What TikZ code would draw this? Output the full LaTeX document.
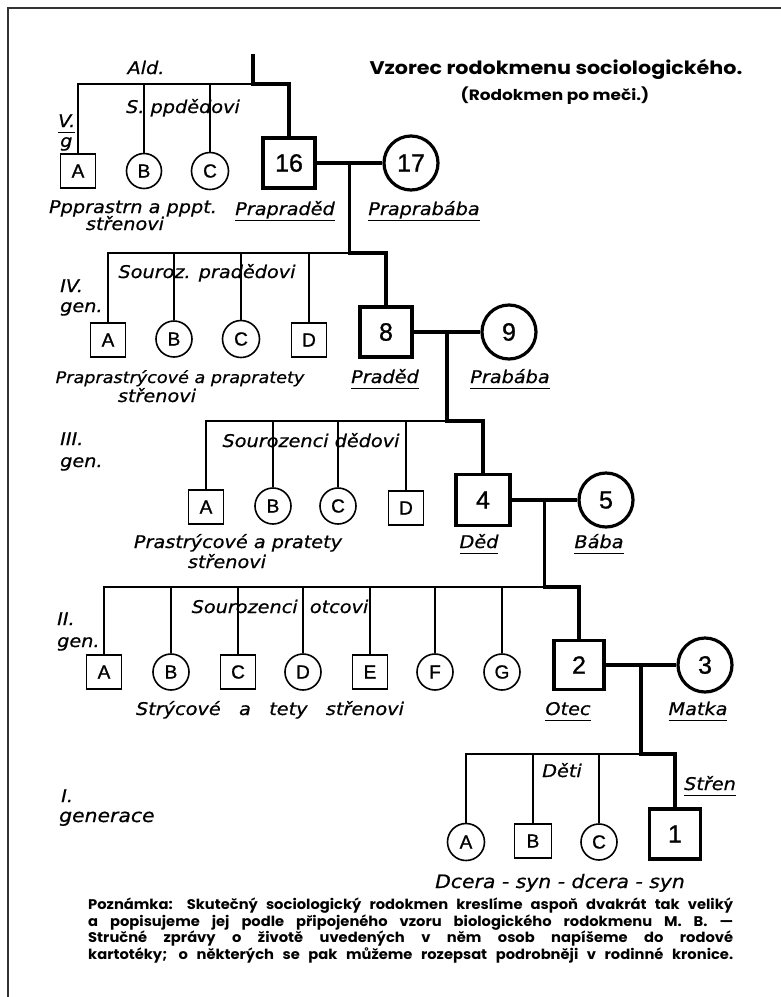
\documentclass[tikz,border=0pt]{standalone}
\usepackage{fontspec}
\setmainfont{Liberation Sans}
\newfontfamily\hand[FakeStretch=1.1,FakeBold=0.6]{DejaVu Sans}
\newfontfamily\geot[FakeStretch=1.13]{Poppins}
\newfontfamily\geon[FakeStretch=1.05]{Poppins}
\newfontfamily\boxf[FakeBold=1]{Liberation Sans}
\usetikzlibrary{calc}
\newcommand\ulab[1]{\setbox0\hbox{#1}\rlap{\rule[-6pt]{\wd0}{1.4pt}}\box0}
\tikzset{
  sq/.style={draw, line width=1.6pt, minimum width=35pt, minimum height=34pt, inner sep=0pt, font=\boxf\fontsize{19}{19}\selectfont},
  ci/.style={draw, circle, line width=1.6pt, minimum size=36pt, inner sep=0pt, font=\boxf\fontsize{19}{19}\selectfont},
  bigsq/.style={draw, line width=3.2pt, minimum width=52pt, minimum height=50pt, inner sep=0pt, font=\boxf\fontsize{25}{25}\selectfont},
  bigci/.style={draw, circle, line width=3.2pt, minimum size=54pt, inner sep=0pt, font=\boxf\fontsize{25}{25}\selectfont},
  lnthin/.style={line width=1.6pt},
  lnthick/.style={line width=3.2pt},
  lab/.style={inner sep=0pt, anchor=base, font=\hand\itshape\fontsize{17.5}{19}\selectfont},
  labl/.style={lab, anchor=base west},
  notef/.style={inner sep=0pt, anchor=base west, font=\geon\bfseries\fontsize{14}{15}\selectfont},
}
\begin{document}
\begin{tikzpicture}[x=1pt, y=-1pt]
\useasboundingbox (0,0) rectangle (781,997);
\fill[white] (0,0) rectangle (781,997);
% frame
\coordinate (fb) at (8,997);
\coordinate (fc) at (8,8);
\coordinate (fr) at (781,8);
\draw[line width=2pt, black!80] (fb) -- (fc) -- (fr);

% title
\node[inner sep=0pt, anchor=base, font=\geot\bfseries\fontsize{18.3}{18.3}\selectfont] (title) at (556,74) {Vzorec rodokmenu sociologického.};
\node[inner sep=0pt, anchor=base, font=\geot\bfseries\fontsize{15}{15}\selectfont] (subtitle) at (555,100) {(Rodokmen po meči.)};

% ---------------- generation V
\node[sq] (vA) at (78,171) {A};
\node[ci, minimum size=35pt] (vB) at (144,171) {B};
\node[ci, minimum size=37pt] (vC) at (210,171) {C};
\node[bigsq] (n16) at (289,163) {16};
\node[bigci] (n17) at (411,163) {17};
\coordinate (t5) at (253,54);
\coordinate (j5) at (253,84);
\draw[lnthick] (t5) -- (j5) -| (n16.north);
\draw[lnthin] (vA.north) |- (j5);
\draw[lnthin] (vB.north) -- (vB.north |- j5);
\draw[lnthin] (vC.north) -- (vC.north |- j5);
\draw[lnthick] (n16) -- (n17);
\coordinate (m16) at ($(n16.east)!0.5!(n17.west)$);

\node[lab] (ald) at (146,74) {Ald.};
\node[lab] (s5) at (183,113) {S. ppdědovi};
\node[labl] (g5a) at (58,127) {\ulab{V.}};
\node[labl] (g5b) at (60,147) {g};
\node[lab] (c5a) at (133,213) {Ppprastrn a pppt.};
\node[lab] (c5b) at (125,230) {střenovi};
\node[lab] (l16) at (285,215) {\ulab{Prapraděd}};
\node[lab] (l17) at (424,215) {\ulab{Praprabába}};

% ---------------- generation IV
\node[sq] (ivA) at (108,340) {A};
\node[ci] (ivB) at (174,339) {B};
\node[ci, minimum size=37pt] (ivC) at (241,339) {C};
\node[sq] (ivD) at (309,340) {D};
\node[bigsq] (n8) at (386,332) {8};
\node[bigci] (n9) at (509,332) {9};
\coordinate (j4) at (m16 |- 0,253);
\draw[lnthick] (m16) -- (j4) -| (n8.north);
\draw[lnthin] (ivA.north) |- (j4);
\draw[lnthin] (ivB.north) -- (ivB.north |- j4);
\draw[lnthin] (ivC.north) -- (ivC.north |- j4);
\draw[lnthin] (ivD.north) -- (ivD.north |- j4);
\draw[lnthick] (n8) -- (n9);
\coordinate (m8) at ($(n8.east)!0.5!(n9.west)$);

\node[labl] (g4a) at (60,292) {IV.};
\node[labl] (g4b) at (60,312) {gen.};
\node[lab] (s4) at (207,278) {Souroz. pradědovi};
\node[lab, font=\hand\itshape\fontsize{16}{18}\selectfont] (c4a) at (180,383) {Praprastrýcové a prapratety};
\node[lab] (c4b) at (157,402) {střenovi};
\node[lab] (l8) at (385,383) {\ulab{Praděd}};
\node[lab] (l9) at (510,383) {\ulab{Prabába}};

% ---------------- generation III
\node[sq] (iiiA) at (206,507) {A};
\node[ci] (iiiB) at (273,506) {B};
\node[ci] (iiiC) at (338,506) {C};
\node[sq] (iiiD) at (406,508) {D};
\node[bigsq, minimum width=54pt, minimum height=51pt] (n4) at (483,500) {4};
\node[bigci] (n5) at (606,500) {5};
\coordinate (j3) at (m8 |- 0,421);
\draw[lnthick] (m8) -- (j3) -| (n4.north);
\draw[lnthin] (iiiA.north) |- (j3);
\draw[lnthin] (iiiB.north) -- (iiiB.north |- j3);
\draw[lnthin] (iiiC.north) -- (iiiC.north |- j3);
\draw[lnthin] (iiiD.north) -- (iiiD.north |- j3);
\draw[lnthick] (n4) -- (n5);
\coordinate (m4) at ($(n4.east)!0.5!(n5.west)$);

\node[labl] (g3a) at (60,445) {III.};
\node[labl] (g3b) at (60,467) {gen.};
\node[lab] (s3) at (311,447) {Sourozenci dědovi};
\node[lab] (c3a) at (238,548) {Prastrýcové a pratety};
\node[lab] (c3b) at (227,568) {střenovi};
\node[lab] (l4) at (479,548) {\ulab{Děd}};
\node[lab] (l5) at (599,548) {\ulab{Bába}};

% ---------------- generation II
\node[sq] (iiA) at (104,672) {A};
\node[ci] (iiB) at (171,672) {B};
\node[sq] (iiC) at (238,672) {C};
\node[ci] (iiD) at (303,672) {D};
\node[sq] (iiE) at (370,672) {E};
\node[ci] (iiF) at (435,672) {F};
\node[ci] (iiG) at (502,672) {G};
\node[bigsq, minimum width=50pt, minimum height=49pt] (n2) at (579,665) {2};
\node[bigci] (n3) at (705,665) {3};
\coordinate (j2) at (m4 |- 0,587);
\draw[lnthick] (m4) -- (j2) -| (n2.north);
\draw[lnthin] (iiA.north) |- (j2);
\foreach \k in {iiB,iiC,iiD,iiE,iiF,iiG}
  \draw[lnthin] (\k.north) -- (\k.north |- j2);
\draw[lnthick] (n2) -- (n3);
\coordinate (m2) at ($(n2.east)!0.5!(n3.west)$);

\node[labl] (g2a) at (57,625) {II.};
\node[labl] (g2b) at (57,647) {gen.};
\node[lab] (s2) at (280,613) {Sourozenci\ \ otcovi};
\node[lab] (c2) at (270,715) {Strýcové\ \ \ a\ \ \ tety\ \ \ střenovi};
\node[lab] (l2) at (568,715) {\ulab{Otec}};
\node[lab] (l3) at (698,715) {\ulab{Matka}};

% ---------------- generation I
\node[ci, minimum size=37pt] (iA) at (466,842) {A};
\node[sq, minimum width=37pt] (iB) at (533,841) {B};
\node[ci] (iC) at (599,842) {C};
\node[bigsq, minimum width=51pt] (n1) at (675,834) {1};
\coordinate (j1) at (m2 |- 0,754);
\draw[lnthick] (m2) -- (j1) -| (n1.north);
\draw[lnthin] (iA.north) |- (j1);
\draw[lnthin] (iB.north) -- (iB.north |- j1);
\draw[lnthin] (iC.north) -- (iC.north |- j1);

\node[labl] (g1a) at (61,802) {I.};
\node[labl, font=\hand\itshape\fontsize{18.5}{19}\selectfont] (g1b) at (59,822) {generace};
\node[lab] (s1) at (562,777) {Děti};
\node[lab] (l1) at (710,790) {\ulab{Střen}};
\node[lab, font=\hand\itshape\fontsize{18.5}{19}\selectfont] (c1) at (560,888) {Dcera - syn - dcera - syn};

% ---------------- note
\node[notef] (note1) at (88,909) {\makebox[645pt][s]{Poznámka: Skutečný sociologický rodokmen kreslíme aspoň dvakrát tak veliký}};
\node[notef] (note2) at (88,926) {\makebox[645pt][s]{a popisujeme jej podle připojeného vzoru biologického rodokmenu M. B. —}};
\node[notef] (note3) at (88,942) {\makebox[645pt][s]{Stručné zprávy o životě uvedených v něm osob napíšeme do rodové}};
\node[notef] (note4) at (88,959) {\makebox[645pt][s]{kartotéky; o některých se pak můžeme rozepsat podrobněji v rodinné kronice.}};
\end{tikzpicture}
\end{document}
